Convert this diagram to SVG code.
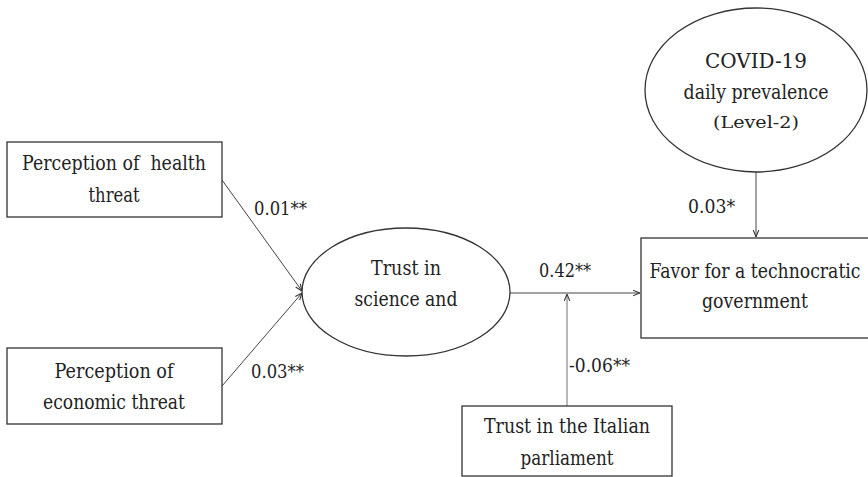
<svg xmlns="http://www.w3.org/2000/svg" width="868" height="477" viewBox="0 0 868 477">
<style>
.box{fill:#fff;stroke:#333;stroke-width:1.3}
text{font-family:'DejaVu Serif','Liberation Serif',serif;fill:#222}
.t{font-size:20px;text-anchor:middle}
.s{font-size:17px;text-anchor:middle}
.lbl{font-size:18px}
.c{fill:none;stroke:#444;stroke-width:1;marker-end:url(#ah)}
.g{fill:none;stroke:#888;stroke-width:1.2;marker-end:url(#ah)}
</style>
<defs>
<marker id="ah" viewBox="0 0 10 10" refX="10" refY="5" markerWidth="7" markerHeight="7" markerUnits="userSpaceOnUse" orient="auto">
<path d="M0,1 L10,5 L0,9" fill="none" stroke="#333" stroke-width="1.5"/>
</marker>
</defs>
<rect width="868" height="477" fill="#fff"/>
<g id="connectors">
<line class="c" x1="222" y1="180" x2="302" y2="291"/>
<line class="c" x1="222" y1="386" x2="302" y2="293"/>
<line class="c" x1="510" y1="293" x2="640" y2="293"/>
<line class="g" x1="567" y1="406" x2="567" y2="294"/>
<line class="c" x1="756" y1="172" x2="756" y2="237"/>
<text class="lbl" x="254" y="215" textLength="53" lengthAdjust="spacingAndGlyphs">0.01**</text>
<text class="lbl" x="251" y="378" textLength="53" lengthAdjust="spacingAndGlyphs">0.03**</text>
<text class="lbl" x="539" y="277" textLength="52" lengthAdjust="spacingAndGlyphs">0.42**</text>
<text class="lbl" x="569" y="372" textLength="61" lengthAdjust="spacingAndGlyphs">-0.06**</text>
<text class="lbl" x="688" y="213" textLength="47" lengthAdjust="spacingAndGlyphs">0.03*</text>
</g>
<g id="health">
<rect class="box" x="7" y="142" width="215" height="75"/>
<text class="t" x="114" y="170" style="white-space:pre" xml:space="preserve" textLength="184" lengthAdjust="spacingAndGlyphs">Perception of  health</text>
<text class="t" x="114" y="202" textLength="51" lengthAdjust="spacingAndGlyphs">threat</text>
</g>
<g id="economic">
<rect class="box" x="7" y="348" width="215" height="76"/>
<text class="t" x="114" y="378" textLength="119" lengthAdjust="spacingAndGlyphs">Perception of</text>
<text class="t" x="114" y="409" textLength="142" lengthAdjust="spacingAndGlyphs">economic threat</text>
</g>
<g id="trust">
<ellipse class="box" cx="406" cy="292" rx="104" ry="64"/>
<text class="t" x="406" y="275" textLength="70" lengthAdjust="spacingAndGlyphs">Trust in</text>
<text class="t" x="406" y="306" textLength="103" lengthAdjust="spacingAndGlyphs">science and</text>
</g>
<g id="favor">
<rect class="box" x="641" y="238" width="230" height="100"/>
<text class="t" x="755" y="278" textLength="211" lengthAdjust="spacingAndGlyphs">Favor for a technocratic</text>
<text class="t" x="755" y="308" textLength="106" lengthAdjust="spacingAndGlyphs">government</text>
</g>
<g id="covid">
<ellipse class="box" cx="756" cy="90" rx="111" ry="82"/>
<text class="t" x="756" y="68" textLength="102" lengthAdjust="spacingAndGlyphs">COVID-19</text>
<text class="t" x="756" y="99" textLength="145" lengthAdjust="spacingAndGlyphs">daily prevalence</text>
<text class="s" x="756" y="128" textLength="86" lengthAdjust="spacingAndGlyphs">(Level-2)</text>
</g>
<g id="italian">
<rect class="box" x="462" y="406" width="210" height="70"/>
<text class="t" x="567" y="433" textLength="166" lengthAdjust="spacingAndGlyphs">Trust in the Italian</text>
<text class="t" x="567" y="465" textLength="93" lengthAdjust="spacingAndGlyphs">parliament</text>
</g>
</svg>
